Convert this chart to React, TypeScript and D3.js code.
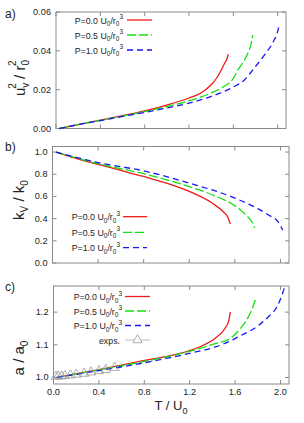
import React from 'react'
import * as d3 from 'd3'

// ---- data ----
const xTicks = [0, 0.4, 0.8, 1.2, 1.6, 2.0]

// panel a: u_v^2 / r_0^2
const aT00 = [0.03, 0.2, 0.4, 0.6, 0.8, 1.0, 1.2, 1.3, 1.4, 1.45, 1.49, 1.52, 1.54, 1.555]
const aV00 = [0, 0.002, 0.0043, 0.0066, 0.0091, 0.0121, 0.0157, 0.018, 0.0225, 0.026, 0.030, 0.0335, 0.0355, 0.0383]
const aT05 = [0.03, 0.2, 0.4, 0.6, 0.8, 1.0, 1.2, 1.4, 1.5, 1.6, 1.64, 1.7, 1.74, 1.76, 1.775]
const aV05 = [0, 0.002, 0.0042, 0.0064, 0.0087, 0.0113, 0.0143, 0.0183, 0.0212, 0.0258, 0.030, 0.0353, 0.040, 0.0435, 0.048]
const aT10 = [0.03, 0.2, 0.4, 0.6, 0.8, 1.0, 1.2, 1.4, 1.6, 1.7, 1.78, 1.88, 1.96, 2.0, 2.015]
const aV10 = [0, 0.002, 0.0041, 0.0062, 0.0083, 0.0106, 0.0131, 0.0165, 0.0214, 0.025, 0.0305, 0.0378, 0.0447, 0.050, 0.0538]
const aYTicks = [0, 0.02, 0.04, 0.06]

// panel b: k_v / k_0
const bT00 = [0.03, 0.2, 0.4, 0.6, 0.8, 1.0, 1.2, 1.4, 1.5, 1.54, 1.56]
const bV00 = [1.0, 0.945, 0.888, 0.835, 0.78, 0.72, 0.645, 0.54, 0.46, 0.41, 0.35]
const bT05 = [0.03, 0.4, 0.8, 1.2, 1.4, 1.6, 1.7, 1.75, 1.775]
const bV05 = [1.0, 0.895, 0.805, 0.688, 0.615, 0.515, 0.43, 0.37, 0.317]
const bT10 = [0.03, 0.4, 0.8, 1.2, 1.6, 1.8, 1.9, 1.98, 2.02]
const bV10 = [1.0, 0.905, 0.83, 0.72, 0.585, 0.49, 0.43, 0.37, 0.296]
const bYTicks = [0, 0.2, 0.4, 0.6, 0.8, 1.0]

// panel c: a / a_0
const cT00 = [0.03, 0.4, 0.8, 1.06, 1.29, 1.425, 1.51, 1.545, 1.558]
const cV00 = [1.0, 1.024, 1.052, 1.069, 1.094, 1.12, 1.15, 1.175, 1.201]
const cT05 = [0.03, 0.4, 0.8, 1.2, 1.41, 1.558, 1.646, 1.71, 1.75, 1.778]
const cV05 = [1.0, 1.023, 1.049, 1.08, 1.102, 1.12, 1.15, 1.181, 1.21, 1.237]
const cT10 = [0.03, 0.4, 0.8, 1.2, 1.48, 1.66, 1.79, 1.9, 1.97, 2.0, 2.035]
const cV10 = [1.0, 1.021, 1.045, 1.074, 1.10, 1.13, 1.155, 1.188, 1.217, 1.24, 1.275]
const expT = [0.02, 0.04, 0.07, 0.1, 0.15, 0.2, 0.27, 0.33, 0.4, 0.46, 0.54]
const expV = [1.003, 1.004, 1.004, 1.005, 1.007, 1.009, 1.012, 1.016, 1.02, 1.024, 1.03]
const cYTicks = [1.0, 1.1, 1.2]

const pLabels = ['0.0', '0.5', '1.0']
const colors = ['#f01818', '#10e010', '#1818f0']
const dashes = ['none', '9,3', '6,4']

const FONT = 'Liberation Sans, Arial, Helvetica, sans-serif'
const frameColor = '#8a8a8a'

type Panel = {
  key: string
  left: number; right: number; top: number; bottom: number
  yDomain: [number, number]
  yTicks: number[]
  yFmt: (v: number) => string
  series: [number[], number[]][]
  legendRows: number[]
  legendEnd: number
  legendLine: [number, number]
  letter: string
  letterY: number
  ylabel: React.ReactNode
  ylabelX: number
  ylabelY: number
  xLabels: boolean
}

const panels: Panel[] = [
  {
    key: 'a', left: 56, right: 286, top: 12, bottom: 128.5,
    yDomain: [0, 0.06], yTicks: aYTicks, yFmt: d3.format('.2f'),
    series: [[aT00, aV00], [aT05, aV05], [aT10, aV10]],
    legendRows: [20, 35, 50], legendEnd: 123, legendLine: [127, 152],
    letter: 'a)', letterY: 18,
    ylabel: (<>u<tspan dy={4} fontSize={10}>v</tspan><tspan dx={-6} dy={-13} fontSize={10}>2</tspan><tspan dy={9}> / r</tspan><tspan dy={4} fontSize={10}>0</tspan><tspan dx={-6} dy={-13} fontSize={10}>2</tspan></>),
    ylabelX: 25, ylabelY: 78, xLabels: false,
  },
  {
    key: 'b', left: 52.5, right: 289, top: 146.5, bottom: 263,
    yDomain: [0, 1.05], yTicks: bYTicks, yFmt: d3.format('.1f'),
    series: [[bT00, bV00], [bT05, bV05], [bT10, bV10]],
    legendRows: [216.7, 232.3, 247.7], legendEnd: 120, legendLine: [123, 147],
    letter: 'b)', letterY: 151,
    ylabel: (<>k<tspan dy={4} fontSize={10}>V</tspan><tspan dy={-4}> / k</tspan><tspan dy={4} fontSize={10}>0</tspan></>),
    ylabelX: 24, ylabelY: 200, xLabels: false,
  },
  {
    key: 'c', left: 53.5, right: 289, top: 286, bottom: 384,
    yDomain: [0.98, 1.28], yTicks: cYTicks, yFmt: d3.format('.1f'),
    series: [[cT00, cV00], [cT05, cV05], [cT10, cV10]],
    legendRows: [296.5, 311, 325.5], legendEnd: 122, legendLine: [125, 150],
    letter: 'c)', letterY: 291,
    ylabel: (<>a / a<tspan dy={4} fontSize={10}>0</tspan></>),
    ylabelX: 24, ylabelY: 358, xLabels: true,
  },
]

const LegendText = ({x, y, p}: {x: number; y: number; p: string}) => (
  <text x={x} y={y} textAnchor="end" fontSize={8.8} fill="#222" fontFamily={FONT}>
    P={p} U<tspan dy={2.5} fontSize={6.5}>0</tspan>
    <tspan dy={-2.5}>/r</tspan>
    <tspan dy={2.5} fontSize={6.5}>0</tspan>
    <tspan dy={-7} fontSize={6.5}>3</tspan>
  </text>
)

const triangle = d3.symbol(d3.symbolTriangle, 38)()

const PanelView = ({pn}: {pn: Panel}) => {
  const x = d3.scaleLinear().domain([0, 2.075]).range([pn.left, pn.right])
  const y = d3.scaleLinear().domain(pn.yDomain).range([pn.bottom, pn.top])
  const line = d3.line<[number, number]>()
    .x(d => x(d[0]))
    .y(d => y(d[1]))
    .curve(d3.curveMonotoneX)
  const tl = 4
  return (
    <g>
      <rect x={pn.left} y={pn.top} width={pn.right - pn.left} height={pn.bottom - pn.top}
        fill="none" stroke={frameColor} strokeWidth={1} />
      {xTicks.map(t => (
        <g key={'x' + t}>
          <line x1={x(t)} x2={x(t)} y1={pn.bottom} y2={pn.bottom - tl} stroke={frameColor} />
          <line x1={x(t)} x2={x(t)} y1={pn.top} y2={pn.top + tl} stroke={frameColor} />
          {pn.xLabels && (
            <text x={x(t)} y={pn.bottom + 11} textAnchor="middle" fontSize={9.2} fill="#222" fontFamily={FONT}>
              {d3.format('.1f')(t)}
            </text>
          )}
        </g>
      ))}
      {pn.yTicks.map(t => (
        <g key={'y' + t}>
          <line x1={pn.left} x2={pn.left + tl} y1={y(t)} y2={y(t)} stroke={frameColor} />
          <line x1={pn.right} x2={pn.right - tl} y1={y(t)} y2={y(t)} stroke={frameColor} />
          <text x={pn.left - 5} y={y(t) + 3} textAnchor="end" fontSize={9.2} fill="#222" fontFamily={FONT}>
            {pn.yFmt(t)}
          </text>
        </g>
      ))}
      {pn.series.map(([ts, vs], i) => (
        <path key={i} d={line(ts.map((t, j) => [t, vs[j]] as [number, number])) || ''}
          fill="none" stroke={colors[i]} strokeWidth={1.3} strokeDasharray={dashes[i]} />
      ))}
      {pn.key === 'c' && expT.map((t, j) => (
        <path key={'e' + j} d={triangle || ''} transform={`translate(${x(t)},${y(expV[j])})`}
          fill="none" stroke="#999" strokeWidth={0.8} />
      ))}
      {pLabels.map((p, i) => (
        <g key={'l' + i}>
          <LegendText x={pn.legendEnd} y={pn.legendRows[i] + 3.5} p={p} />
          <line x1={pn.legendLine[0]} x2={pn.legendLine[1]} y1={pn.legendRows[i]} y2={pn.legendRows[i]}
            stroke={colors[i]} strokeWidth={1.3} strokeDasharray={dashes[i]} />
        </g>
      ))}
      {pn.key === 'c' && (
        <g>
          <text x={pn.legendEnd - 2} y={343.5} textAnchor="end" fontSize={8.8} fill="#222" fontFamily={FONT}>exps.</text>
          <line x1={pn.legendLine[0]} x2={pn.legendLine[1]} y1={340} y2={340} stroke="#aaa" strokeWidth={0.8} />
          <path d={triangle || ''} transform={`translate(${(pn.legendLine[0] + pn.legendLine[1]) / 2},340)`}
            fill="#fff" stroke="#999" strokeWidth={0.8} />
        </g>
      )}
      <text x={5} y={pn.letterY} fontSize={12} fill="#222" fontFamily={FONT}>{pn.letter}</text>
      <text transform={`translate(${pn.ylabelX},${pn.ylabelY}) rotate(-90)`} textAnchor="middle"
        fontSize={15} fill="#222" fontFamily={FONT}>{pn.ylabel}</text>
    </g>
  )
}

export default function App() {
  return (
    <svg width={304} height={423} style={{position: 'absolute', left: 0, top: 0, background: '#fff'}}>
      <rect width={304} height={423} fill="#fff" />
      {panels.map(pn => <PanelView key={pn.key} pn={pn} />)}
      <text x={171} y={410} textAnchor="middle" fontSize={13} fill="#222" fontFamily={FONT}>
        T / U<tspan dy={4} fontSize={9}>0</tspan>
      </text>
    </svg>
  )
}
